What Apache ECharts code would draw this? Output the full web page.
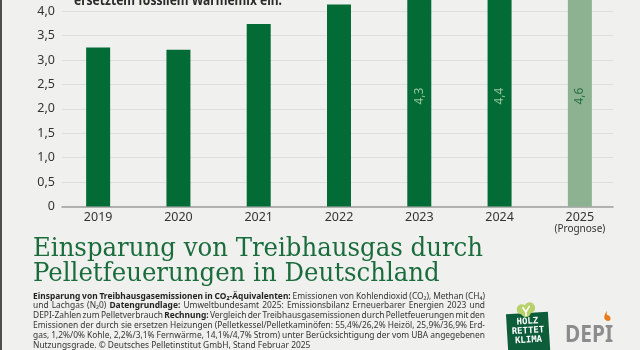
<!DOCTYPE html>
<html>
<head>
<meta charset="utf-8">
<script src="https://cdn.jsdelivr.net/npm/echarts@6/dist/echarts.min.js"></script>
<style>
  html, body { margin: 0; padding: 0; background: #f0f1ee; }
  #chart { width: 640px; height: 350px; }
</style>
</head>
<body>
<div id="chart"></div>
<script>
// Eingesparte Treibhausgasemissionen durch Pelletfeuerungen (Mio. t CO2-Äq.)
const years = ['2019', '2020', '2021', '2022', '2023', '2024', '2025'];
const savings = [3.26, 3.21, 3.74, 4.14, 4.3, 4.4, 4.6];
const labelledYears = ['2023', '2024', '2025'];
const forecastYears = ['2025'];
const forecastNote = '(Prognose)';

const yTicks = [0, 0.5, 1, 1.5, 2, 2.5, 3, 3.5, 4, 4.5, 5];
const yTickLabels = ['0', '0,5', '1,0', '1,5', '2,0', '2,5', '3,0', '3,5', '4,0', '4,5', '5,0'];

const headlineTail = 'ersetztem fossilem Wärmemix ein.';
const titleLines = ['Einsparung von Treibhausgas durch', 'Pelletfeuerungen in Deutschland'];

// Quellenangabe: [fett?, Text]
const noteLines = [
  [[true, 'Einsparung von Treibhausgasemissionen in CO₂-Äquivalenten:'], [false, ' Emissionen von Kohlendioxid (CO₂), Methan (CH₄)']],
  [[false, 'und Lachgas (N₂0) '], [true, 'Datengrundlage:'], [false, ' Umweltbundesamt 2025: Emissionsbilanz Erneuerbarer Energien 2023 und']],
  [[false, 'DEPI-Zahlen zum Pelletverbrauch '], [true, 'Rechnung:'], [false, ' Vergleich der Treibhausgasemissionen durch Pelletfeuerungen mit den']],
  [[false, 'Emissionen der durch sie ersetzen Heizungen (Pelletkessel/Pelletkaminöfen: 55,4%/26,2% Heizöl, 25,9%/36,9% Erd-']],
  [[false, 'gas, 1,2%/0% Kohle, 2,2%/3,1% Fernwärme, 14,1%/4,7% Strom) unter Berücksichtigung der vom UBA angegebenen']],
  [[false, 'Nutzungsgrade. © Deutsches Pelletinstitut GmbH, Stand Februar 2025']]
];
const logoLines = ['HOLZ', 'RETTET', 'KLIMA'];
const brandName = 'DEPI';

// ---------- colours ----------
const GREEN = '#036b36';
const GREEN_LIGHT = '#8db292';
const TITLE_GREEN = '#1b6c3d';
const TEXT = '#333333';
const SANS = 'Noto Sans';

// ---------- text measuring helpers ----------
const mctx = document.createElement('canvas').getContext('2d');
function fontStr(size, family, weight) {
  return (weight || 'normal') + ' ' + size + 'px "' + family + '"';
}
function measure(str, font) {
  mctx.font = font;
  mctx.textBaseline = 'alphabetic';
  return mctx.measureText(str).width;
}
// distance from the 'middle' line down to the alphabetic baseline
function baseDrop(font) {
  mctx.font = font;
  mctx.textBaseline = 'middle';
  const d = mctx.measureText('H').actualBoundingBoxDescent;
  mctx.textBaseline = 'alphabetic';
  return d;
}

const graphics = [];

// dark frame edge on the left
graphics.push({ type: 'rect', shape: { x: 0, y: 0, width: 2, height: 350 }, style: { fill: '#4d4d4d' }, z: 10 });

// headline tail (upper part lies outside the visible area)
(function () {
  const f = fontStr(15, SANS, 'bold');
  const w = measure(headlineTail, f);
  graphics.push({
    type: 'text', x: 74, y: 4.5 - baseDrop(f), scaleX: 208 / w,
    style: { text: headlineTail, font: f, fill: '#2a2a2a', align: 'left', textAlign: 'left', verticalAlign: 'middle', textVerticalAlign: 'middle' }
  });
})();

// big title
(function () {
  const f = fontStr(25.5, 'DejaVu Serif', 'normal');
  const s = 450 / measure(titleLines[0], f);
  const baselines = [255.5, 280.5];
  titleLines.forEach(function (line, i) {
    graphics.push({
      type: 'text', x: 33, y: baselines[i] - baseDrop(f), scaleX: s,
      style: { text: line, font: f, fill: TITLE_GREEN, align: 'left', textAlign: 'left', verticalAlign: 'middle', textVerticalAlign: 'middle' }
    });
  });
})();

// justified source note
(function () {
  const size = 9.4;
  const fR = fontStr(size, SANS, 'normal');
  const fB = fontStr(size, SANS, 'bold');
  const target = 452;
  const space = measure(' ', fR);
  const lines = noteLines.map(function (segs) {
    const words = [];
    segs.forEach(function (seg) {
      const parts = seg[1].split(' ');
      parts.forEach(function (p, k) {
        if (k > 0) words.push(null);
        if (p.length) words.push([seg[0], p]);
      });
    });
    const clean = [];
    words.forEach(function (w) {
      if (w === null && (clean.length === 0 || clean[clean.length - 1] === null)) return;
      clean.push(w);
    });
    while (clean.length && clean[clean.length - 1] === null) clean.pop();
    let ww = 0, gaps = 0;
    clean.forEach(function (w) {
      if (w === null) gaps++; else ww += measure(w[1], w[0] ? fB : fR);
    });
    return { items: clean, ww: ww, gaps: gaps };
  });
  let s = 1;
  lines.slice(0, lines.length - 1).forEach(function (l) {
    s = Math.min(s, target / (l.ww + l.gaps * space * 0.6));
  });
  const top = 298.5, step = 9.8;
  const drop = baseDrop(fR);
  lines.forEach(function (l, i) {
    const last = i === lines.length - 1;
    const gw = last ? space : (target / s - l.ww) / l.gaps;
    const rich = {
      r: { fontSize: size, fontFamily: SANS, fontWeight: 'normal', fill: TEXT, color: TEXT },
      b: { fontSize: size, fontFamily: SANS, fontWeight: 'bold', fill: '#1f1f1f', color: '#1f1f1f' },
      g: { fontSize: size, fontFamily: SANS, width: gw }
    };
    const text = l.items.map(function (w) {
      return w === null ? '{g| }' : (w[0] ? '{b|' + w[1] + '}' : '{r|' + w[1] + '}');
    }).join('');
    graphics.push({
      type: 'text', x: 33, y: top + i * step - drop, scaleX: s,
      style: { text: text, rich: rich, font: fR, fill: TEXT, align: 'left', textAlign: 'left', verticalAlign: 'middle', textVerticalAlign: 'middle' }
    });
  });
})();

// "Holz rettet Klima" badge
(function () {
  const f = fontStr(9, 'DejaVu Sans Mono', 'bold');
  const children = [
    { type: 'rect', shape: { x: -21, y: -18, width: 42, height: 42 }, style: { fill: '#0e5d3a' } },
    { type: 'circle', shape: { cx: -5, cy: -22, r: 5 }, style: { fill: '#b8d16b' } },
    { type: 'circle', shape: { cx: 3, cy: -23, r: 5.5 }, style: { fill: '#b8d16b' } },
    { type: 'circle', shape: { cx: -1, cy: -19, r: 5 }, style: { fill: '#b8d16b' } },
    { type: 'polyline', shape: { points: [[-4, -24], [-1, -19], [-1, -15]] }, style: { stroke: '#ffffff', lineWidth: 1.6, fill: null } },
    { type: 'polyline', shape: { points: [[3, -25], [-1, -19]] }, style: { stroke: '#ffffff', lineWidth: 1.6, fill: null } }
  ];
  logoLines.forEach(function (t, i) {
    children.push({
      type: 'text', x: 0, y: -9.5 + i * 9.3,
      style: { text: t, font: f, fill: '#ffffff', align: 'center', textAlign: 'center', verticalAlign: 'middle', textVerticalAlign: 'middle' }
    });
  });
  graphics.push({ type: 'group', x: 528, y: 331, rotation: 0.06, children: children });
})();

// DEPI word mark with flame
(function () {
  const f = fontStr(24, SANS, 'bold');
  const w = measure(brandName, f);
  graphics.push({
    type: 'text', x: 565, y: 342 - baseDrop(f), scaleX: 48 / w,
    style: { text: brandName, font: f, fill: '#8c8c8c', align: 'left', textAlign: 'left', verticalAlign: 'middle', textVerticalAlign: 'middle' }
  });
  graphics.push({
    type: 'polygon', x: 608, y: 321,
    shape: { points: [[0, 0], [-3, -1.5], [-3.6, -5], [-1, -10], [-1.2, -6.5], [1.5, -5], [2.6, -2.5], [1.6, -0.4]], smooth: 0.4 },
    style: { fill: '#ea7a1c' }
  });
})();

// ---------- chart ----------
const chart = echarts.init(document.getElementById('chart'), null, { renderer: 'canvas' });

const barData = years.map(function (y, i) {
  const forecast = forecastYears.indexOf(y) >= 0;
  const item = { value: savings[i], itemStyle: { color: forecast ? GREEN_LIGHT : GREEN } };
  if (labelledYears.indexOf(y) >= 0) {
    item.label = { show: true, color: forecast ? '#24703f' : '#93c79a' };
  }
  return item;
});

const plotTop = -37.5, plotBottom = 143.5;

chart.setOption({
  backgroundColor: '#f0f1ee',
  animation: false,
  grid: [
    { left: 58, right: 20, top: plotTop, bottom: plotBottom, outerBoundsMode: 'none', containLabel: false },
    { left: 62, right: 27, top: plotTop, bottom: plotBottom, outerBoundsMode: 'none', containLabel: false }
  ],
  xAxis: [
    {
      gridIndex: 0, type: 'category', data: years,
      axisLine: { show: false }, axisTick: { show: false }, splitLine: { show: false },
      axisLabel: {
        interval: 0, hideOverlap: false,
        margin: 4, color: TEXT, fontFamily: SANS, fontSize: 12.5, lineHeight: 13,
        formatter: function (v) {
          return forecastYears.indexOf(v) >= 0 ? v + '\n{p|' + forecastNote + '}' : v;
        },
        rich: { p: { fontSize: 10, lineHeight: 11, color: TEXT, fontFamily: SANS } }
      }
    },
    {
      gridIndex: 1, type: 'value', min: 0, max: 1,
      axisLine: { show: true, lineStyle: { color: '#9d9d9d', width: 1.5 } },
      axisTick: { show: false }, axisLabel: { show: false }, splitLine: { show: false }
    }
  ],
  yAxis: [
    { gridIndex: 0, type: 'value', min: 0, max: 5, show: false },
    {
      gridIndex: 1, type: 'value', min: 0, max: 5, interval: 0.5,
      axisLine: { show: false }, axisTick: { show: false },
      axisLabel: {
        margin: 7, color: TEXT, fontFamily: SANS, fontSize: 12.5,
        formatter: function (v) {
          const k = yTicks.findIndex(function (t) { return Math.abs(t - v) < 1e-6; });
          return k >= 0 ? yTickLabels[k] : '';
        }
      },
      splitLine: { lineStyle: { color: '#dcdfda', width: 1 } }
    }
  ],
  series: [{
    type: 'bar', xAxisIndex: 0, yAxisIndex: 0, barWidth: 24, silent: true,
    data: barData,
    label: {
      show: false, position: 'insideBottom', distance: 102, rotate: 90,
      align: 'left', verticalAlign: 'middle', fontSize: 12, fontFamily: SANS,
      formatter: function (p) { return String(p.value).replace('.', ','); }
    }
  }],
  graphic: graphics
});
</script>
</body>
</html>
